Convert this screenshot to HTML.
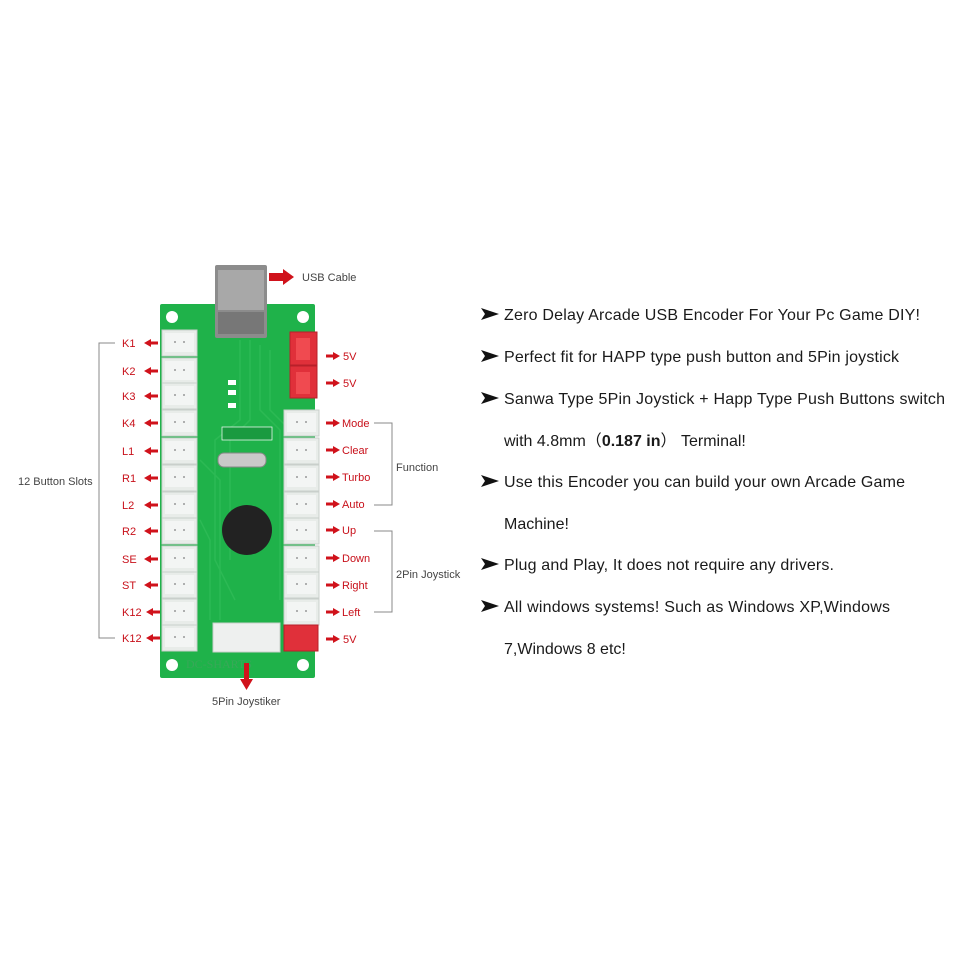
<!DOCTYPE html>
<html><head><meta charset="utf-8"><style>html,body{margin:0;padding:0;background:#fff}svg{display:block}</style></head>
<body>
<svg width="970" height="970" viewBox="0 0 970 970" xmlns="http://www.w3.org/2000/svg" font-family="Liberation Sans, Arial, sans-serif">
<defs>
<marker id="al" markerWidth="6" markerHeight="6" refX="3" refY="3" orient="auto"><path d="M0,0 L6,3 L0,6 Z" fill="#d0121b"/></marker>
<g id="wc"><rect x="0" y="0" width="35" height="26" fill="#e8ece9" stroke="#c9cfcb"/><rect x="3" y="3" width="29" height="19" fill="#f3f5f4"/><circle cx="13" cy="12" r="1" fill="#999"/><circle cx="22" cy="12" r="1" fill="#999"/></g>
<g id="la"><path d="M0,0 L7,-4 L7,-1.5 L14,-1.5 L14,1.5 L7,1.5 L7,4 Z" fill="#d0121b"/></g>
<g id="ra"><path d="M0,-1.5 L7,-1.5 L7,-4 L14,0 L7,4 L7,1.5 L0,1.5 Z" fill="#d0121b"/></g>
</defs>
<rect width="970" height="970" fill="#fff"/>
<!-- board -->
<rect x="160" y="304" width="155" height="374" fill="#1fb24a" rx="2"/>
<g fill="#3cc866" opacity="0.6" stroke="#35bf5c" stroke-width="1.5" fill-opacity="0">
<path d="M240,340 L240,420 L215,440 L215,560 L235,600"/><path d="M250,340 L250,420 L230,440 L230,560"/><path d="M260,345 L260,410 L280,430 L280,600"/><path d="M270,350 L270,410 L290,430"/><path d="M200,460 L220,480 L220,620"/><path d="M200,520 L210,540 L210,620"/></g>
<circle cx="172" cy="317" r="6" fill="#fff"/><circle cx="303" cy="317" r="6" fill="#fff"/>
<circle cx="172" cy="665" r="6" fill="#fff"/><circle cx="303" cy="665" r="6" fill="#fff"/>
<!-- usb -->
<rect x="215" y="265" width="52" height="73" fill="#8c8c8c" rx="2"/>
<rect x="218" y="270" width="46" height="40" fill="#a8a8a8"/>
<rect x="218" y="312" width="46" height="22" fill="#777"/>
<!-- chips -->
<rect x="228" y="380" width="8" height="5" fill="#fff"/><rect x="228" y="390" width="8" height="5" fill="#fff"/><rect x="228" y="403" width="8" height="5" fill="#fff"/>
<rect x="222" y="427" width="50" height="13" fill="#1a9a40" stroke="#fff" stroke-width="0.7"/>
<rect x="218" y="453" width="48" height="14" fill="#c9c9c9" rx="6" stroke="#888"/>
<circle cx="247" cy="530" r="25" fill="#222"/>
<text x="186" y="668" font-size="12" fill="#38a858" font-family="Liberation Serif, serif">DC-SHARTS</text>
<!-- left connectors -->
<g>
<use href="#wc" x="162" y="330"/><use href="#wc" x="162" y="358"/><use href="#wc" x="162" y="383"/><use href="#wc" x="162" y="410"/><use href="#wc" x="162" y="438"/><use href="#wc" x="162" y="465"/><use href="#wc" x="162" y="492"/><use href="#wc" x="162" y="518"/><use href="#wc" x="162" y="546"/><use href="#wc" x="162" y="572"/><use href="#wc" x="162" y="599"/><use href="#wc" x="162" y="625"/>
</g>
<!-- right connectors -->
<rect x="290" y="332" width="27" height="33" fill="#e0303a" stroke="#b8202a"/><rect x="290" y="366" width="27" height="32" fill="#e0303a" stroke="#b8202a"/>
<rect x="296" y="338" width="14" height="22" fill="#f04a50"/><rect x="296" y="372" width="14" height="22" fill="#f04a50"/>
<use href="#wc" x="284" y="410"/><use href="#wc" x="284" y="438"/><use href="#wc" x="284" y="465"/><use href="#wc" x="284" y="492"/><use href="#wc" x="284" y="518"/><use href="#wc" x="284" y="546"/><use href="#wc" x="284" y="572"/><use href="#wc" x="284" y="599"/>
<rect x="284" y="625" width="34" height="26" fill="#e0303a" stroke="#b8202a"/>
<rect x="213" y="623" width="67" height="29" fill="#eef0ef" stroke="#c9cfcb"/>
<!-- left labels -->
<g font-size="11" fill="#c8101a">
<text x="122" y="347">K1</text><text x="122" y="375">K2</text><text x="122" y="400">K3</text><text x="122" y="427">K4</text><text x="122" y="455">L1</text><text x="122" y="482">R1</text><text x="122" y="509">L2</text><text x="122" y="535">R2</text><text x="122" y="563">SE</text><text x="122" y="589">ST</text><text x="122" y="616">K12</text><text x="122" y="642">K12</text>
</g>
<g>
<use href="#la" x="144" y="343"/><use href="#la" x="144" y="371"/><use href="#la" x="144" y="396"/><use href="#la" x="144" y="423"/><use href="#la" x="144" y="451"/><use href="#la" x="144" y="478"/><use href="#la" x="144" y="505"/><use href="#la" x="144" y="531"/><use href="#la" x="144" y="559"/><use href="#la" x="144" y="585"/><use href="#la" x="146" y="612"/><use href="#la" x="146" y="638"/>
</g>
<!-- right labels -->
<g>
<use href="#ra" x="326" y="356"/><use href="#ra" x="326" y="383"/><use href="#ra" x="326" y="423"/><use href="#ra" x="326" y="450"/><use href="#ra" x="326" y="477"/><use href="#ra" x="326" y="504"/><use href="#ra" x="326" y="530"/><use href="#ra" x="326" y="558"/><use href="#ra" x="326" y="585"/><use href="#ra" x="326" y="612"/><use href="#ra" x="326" y="639"/>
</g>
<g font-size="11" fill="#c8101a">
<text x="343" y="360">5V</text><text x="343" y="387">5V</text><text x="342" y="427">Mode</text><text x="342" y="454">Clear</text><text x="342" y="481">Turbo</text><text x="342" y="508">Auto</text><text x="342" y="534">Up</text><text x="342" y="562">Down</text><text x="342" y="589">Right</text><text x="342" y="616">Left</text><text x="343" y="643">5V</text>
</g>
<!-- USB arrow -->
<path d="M269,273 L283,273 L283,269 L294,277 L283,285 L283,281 L269,281 Z" fill="#d0121b"/>
<text x="302" y="281" font-size="11" fill="#444">USB Cable</text>
<!-- bottom arrow -->
<path d="M244,663 L249,663 L249,679 L253,679 L246.5,690 L240,679 L244,679 Z" fill="#d0121b"/>
<text x="212" y="705" font-size="11" fill="#444">5Pin Joystiker</text>
<!-- brackets -->
<g stroke="#888" fill="none" stroke-width="1">
<path d="M115,343 L99,343 L99,638 L115,638"/>
<path d="M374,423 L392,423 L392,505 L374,505"/>
<path d="M374,531 L392,531 L392,612 L374,612"/>
</g>
<g font-size="11" fill="#444">
<text x="18" y="485">12 Button Slots</text>
<text x="396" y="471">Function</text>
<text x="396" y="578">2Pin Joystick</text>
</g>
<!-- right text -->
<g fill="#111">
<path d="M481,308 L499,314 L481,320 L485,314 Z"/>
<path d="M481,350 L499,356 L481,362 L485,356 Z"/>
<path d="M481,392 L499,398 L481,404 L485,398 Z"/>
<path d="M481,475 L499,481 L481,487 L485,481 Z"/>
<path d="M481,558 L499,564 L481,570 L485,564 Z"/>
<path d="M481,600 L499,606 L481,612 L485,606 Z"/>
</g>
<g font-size="16" fill="#1a1a1a">
<text x="504" y="320" textLength="416">Zero Delay Arcade USB Encoder For Your Pc Game DIY!</text>
<text x="504" y="362" textLength="395">Perfect fit for HAPP type push button and 5Pin joystick</text>
<text x="504" y="404" textLength="441">Sanwa Type 5Pin Joystick + Happ Type Push Buttons switch</text>
<text x="504" y="446">with 4.8mm（<tspan font-weight="bold">0.187 in</tspan>）  Terminal!</text>
<text x="504" y="487" textLength="401">Use this Encoder you can build your own Arcade Game</text>
<text x="504" y="529">Machine!</text>
<text x="504" y="570" textLength="330">Plug and Play, It does not require any drivers.</text>
<text x="504" y="612" textLength="386">All windows systems! Such as Windows XP,Windows</text>
<text x="504" y="654">7,Windows 8 etc!</text>
</g>
</svg>
</body></html>
